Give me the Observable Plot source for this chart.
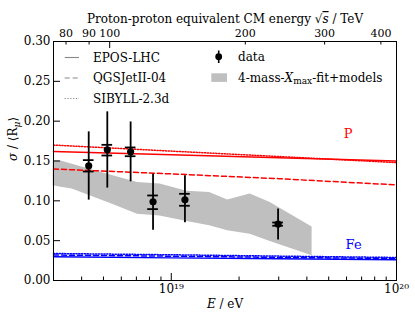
<!DOCTYPE html>
<html><head><meta charset="utf-8">
<script src="https://cdn.jsdelivr.net/npm/d3@7"></script>
<script src="https://cdn.jsdelivr.net/npm/@observablehq/plot@0.6"></script>
<style>
html,body{margin:0;padding:0;background:#fff;}
#chart{position:relative;width:415px;height:322px;}
</style></head><body><div id="chart"></div>
<script>
// ---- measured data points ----
const dataE   = [4.3e18, 5.2e18, 6.6e18, 8.3e18, 1.15e19, 2.98e19];
const dataVal = [0.144, 0.164, 0.1615, 0.0988, 0.1013, 0.0708];
const totLo   = [0.1009, 0.116, 0.1239, 0.0632, 0.0724, 0.0507];
const totHi   = [0.1866, 0.2117, 0.199, 0.1335, 0.1314, 0.0896];
const sysLo   = [0.1368, 0.1569, 0.156, 0.0896, 0.0938, 0.0687];
const sysHi   = [0.1511, 0.1703, 0.167, 0.1067, 0.1088, 0.0728];

// ---- 4-mass Xmax fit + models band ----
const bandE  = [2.99e18, 3.24e18, 3.63e18, 5.37e18, 7.08e18, 8.91e18, 1.175e19, 1.48e19, 1.78e19, 2.24e19, 2.75e19, 4.22e19];
const bandHi = [0.151, 0.150, 0.146, 0.1325, 0.123, 0.121, 0.112, 0.1105, 0.101, 0.1085, 0.098, 0.067];
const bandLo = [0.119, 0.117, 0.115, 0.0966, 0.0833, 0.081, 0.074, 0.0687, 0.0624, 0.058, 0.049, 0.031];

// ---- model predictions ----
const modelE   = [3e18, 1e19, 3e19, 1e20];
const eposP    = [0.162, 0.158, 0.154, 0.150];
const qgsP     = [0.140, 0.1338, 0.1278, 0.120];
const sibyllP  = [0.170, 0.1624, 0.1556, 0.148];
const eposFe   = [0.0297, 0.0284, 0.0272, 0.026];
const qgsFe    = [0.032, 0.0305, 0.029, 0.0276];
const sibyllFe = [0.0339, 0.0323, 0.0306, 0.0289];

// ---- annotations ----
const primLabels = ["P", "Fe"];
const primE      = [6.1e19, 6.45e19];
const primY      = [0.184, 0.0448];
const primColors = ["#ff0000", "#0000ff"];

// ---- ticks ----
const yTicks      = [0, 0.05, 0.10, 0.15, 0.20, 0.25, 0.30];
const xMajor      = [1e19, 1e20];
const xMinor      = [4e18, 5e18, 6e18, 7e18, 8e18, 9e18, 2e19, 3e19, 4e19, 5e19, 6e19, 7e19, 8e19, 9e19];
const topMajorTeV = [100];
const topMinorTeV = [80, 90, 200, 300, 400];
const topLabelTeV = [80, 90, 100, 200, 300, 400];

// ---- legend ----
const legendModels = ["EPOS-LHC", "QGSJetII-04", "SIBYLL-2.3d"];
const legendDash   = [null, "5,3", "1.2,1.6"];

const FS = 12;
const W = 415, H = 322, mL = 53, mR = 19, mT = 41, mB = 42;
const frameW = W - mL - mR, frameH = H - mT - mB;
const majorLen = 7, minorLen = 3.5;

const mp = 0.938272e9; // eV
const teVtoE = t => (t * 1e12) ** 2 / (2 * mp);

const points = dataE.map((E, i) => ({E, v: dataVal[i], lo: totLo[i], hi: totHi[i], slo: sysLo[i], shi: sysHi[i]}));
const band = bandE.map((E, i) => ({E, lo: bandLo[i], hi: bandHi[i]}));
const models = [
  {name: "EPOS-LHC", prim: "P", vals: eposP},
  {name: "QGSJetII-04", prim: "P", vals: qgsP},
  {name: "SIBYLL-2.3d", prim: "P", vals: sibyllP},
  {name: "EPOS-LHC", prim: "Fe", vals: eposFe},
  {name: "QGSJetII-04", prim: "Fe", vals: qgsFe},
  {name: "SIBYLL-2.3d", prim: "Fe", vals: sibyllFe}
];
const dashFor = n => legendDash[legendModels.indexOf(n)];
const lineMarks = models.map(m => Plot.line(modelE.map((E, i) => ({E, v: m.vals[i]})), {
  x: "E", y: "v",
  stroke: m.prim === "P" ? primColors[0] : primColors[1],
  strokeWidth: 1.5,
  strokeDasharray: dashFor(m.name)
}));
const annot = primLabels.map((t, i) => ({t, E: primE[i], y: primY[i], c: primColors[i]}));
const sup = {"0":"⁰","1":"¹","2":"²","3":"³","4":"⁴","5":"⁵","6":"⁶","7":"⁷","8":"⁸","9":"⁹"};
const capF = 1.056;
const topTicks = topLabelTeV.map(t => ({E: teVtoE(t), t}));

const YLABEL = "σ / ⟨Rμ⟩";
const XLABEL = "E / eV";
const TOPLABEL = "Proton-proton equivalent CM energy √s / TeV";

const plot = Plot.plot({
  width: W, height: H,
  marginLeft: mL, marginRight: mR, marginTop: mT, marginBottom: mB,
  style: {fontFamily: "DejaVu Serif", fontSize: FS + "px", background: "white", color: "black"},
  x: {type: "log", domain: [3e18, 1e20]},
  y: {domain: [0, 0.30]},
  marks: [
    Plot.areaY(band, {x: "E", y1: "lo", y2: "hi", fill: "#bfbfbf"}),
    ...lineMarks,
    Plot.ruleX(points, {x: "E", y1: "lo", y2: "hi", stroke: "black", strokeWidth: 1.8}),
    Plot.ruleY(points, {y: "shi", x1: d => d.E / capF, x2: d => d.E * capF, stroke: "black", strokeWidth: 1.8}),
    Plot.ruleY(points, {y: "slo", x1: d => d.E / capF, x2: d => d.E * capF, stroke: "black", strokeWidth: 1.8}),
    Plot.dot(points, {x: "E", y: "v", r: 3.6, fill: "black"}),
    Plot.text(annot, {x: "E", y: "y", text: "t", fill: "c", fontSize: 13}),
    // inward ticks
    Plot.tickY(yTicks, {y: d => d, insetRight: frameW - majorLen, stroke: "black"}),
    Plot.tickX(xMajor, {x: d => d, insetTop: frameH - majorLen, stroke: "black"}),
    Plot.tickX(xMinor, {x: d => d, insetTop: frameH - minorLen, stroke: "black"}),
    Plot.tickX(topMajorTeV, {x: teVtoE, insetBottom: frameH - majorLen, stroke: "black"}),
    Plot.tickX(topMinorTeV, {x: teVtoE, insetBottom: frameH - minorLen, stroke: "black"}),
    // tick labels
    Plot.axisY(yTicks, {tickSize: 0, tickPadding: 3, tickFormat: d3.format(".2f"), label: null}),
    Plot.axisX(xMajor, {anchor: "bottom", tickSize: 0, tickPadding: 4,
      text: d => "10" + String(Math.round(Math.log10(d))).split("").map(c => sup[c]).join(""), label: null}),
    Plot.text(topTicks, {x: "E", text: d => String(d.t), frameAnchor: "top", dy: -12, fontSize: 11}),
    Plot.frame({stroke: "black"}),
    Plot.text([YLABEL], {frameAnchor: "left", rotate: -90, dx: -40, fontSize: FS}),
    Plot.text([XLABEL], {frameAnchor: "bottom", dy: 27, fontSize: FS}),
    Plot.text([TOPLABEL], {frameAnchor: "top", dy: -27, fontSize: FS})
  ]
});

const svg = d3.select(plot);
function rich(plain, html) {
  return svg.selectAll("text").filter(function() { return this.textContent === plain; })
    .attr("font-family", "DejaVu Serif").attr("font-size", FS).html(html);
}
rich(YLABEL, '<tspan font-style="italic">σ</tspan> / ⟨R<tspan font-style="italic" font-size="9" dy="3">μ</tspan><tspan dy="-3">⟩</tspan>');
rich(XLABEL, '<tspan font-style="italic">E</tspan> / eV');
rich(TOPLABEL, 'Proton-proton equivalent CM energy √<tspan font-style="italic" text-decoration="overline">s</tspan> / TeV');

// legend drawn into the same svg
const lg = svg.append("g").attr("font-family", "DejaVu Serif").attr("font-size", FS).attr("text-anchor", "start");
legendModels.forEach((name, i) => {
  const y = 57.5 + i * 20.5;
  lg.append("line").attr("x1", 64.7).attr("x2", 79).attr("y1", y).attr("y2", y)
    .attr("stroke", "#888").attr("stroke-width", 1.1).attr("stroke-dasharray", legendDash[i]);
  lg.append("text").attr("x", 93).attr("y", y).attr("dy", "0.35em").text(name);
});
lg.append("line").attr("x1", 218.7).attr("x2", 218.7).attr("y1", 50.5).attr("y2", 63).attr("stroke", "black").attr("stroke-width", 1.6);
lg.append("circle").attr("cx", 218.7).attr("cy", 56.7).attr("r", 3.4).attr("fill", "black");
lg.append("text").attr("x", 238).attr("y", 57).attr("dy", "0.35em").text("data");
lg.append("rect").attr("x", 211.3).attr("y", 73.3).attr("width", 15.7).attr("height", 8.6).attr("fill", "#bfbfbf");
lg.append("text").attr("x", 238).attr("y", 77.5).attr("dy", "0.35em")
  .html('4-mass-<tspan font-style="italic">X</tspan><tspan font-size="9" dy="2.5">max</tspan><tspan dy="-2.5">-fit+models</tspan>');

document.getElementById("chart").appendChild(plot);
</script></body></html>
